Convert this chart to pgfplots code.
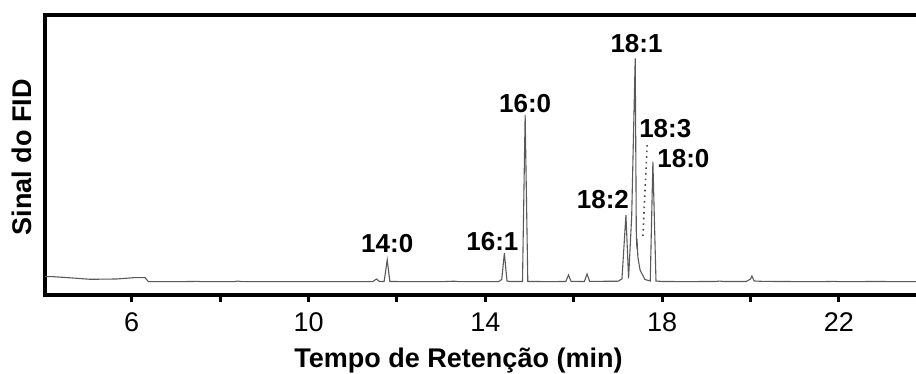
\documentclass[border=0pt]{standalone}
\usepackage{pgfplots}
\pgfplotsset{compat=1.18}
\usepackage{fontspec}
\setmainfont{Liberation Sans}
\begin{document}
\begin{tikzpicture}
\begin{axis}[
  scale only axis,
  width=437pt, height=140pt,
  xmin=4.038, xmax=23.81,
  ymin=0, ymax=280,
  axis line style={line width=1.6pt, black},
  xtick={6,10,14,18,22},
  minor xtick={8,12,16,20},
  xtick pos=bottom,
  ytick=\empty,
  tick align=outside,
  major tick length=3.5pt,
  minor tick length=3.5pt,
  every tick/.style={line width=1.5pt, black},
  /pgf/number format/assume math mode=true,
  xticklabel style={font=\fontsize{13.5}{15}\selectfont, yshift=-2pt},
  clip=false,
]
\addplot[color=black!65, line width=0.55pt] coordinates {
(4.04,18.3) (4.23,18.3) (4.6,17.2) (5.06,15.7) (5.66,16.0) (6.04,17.3) (6.30,17.3) (6.38,13.3)
(7.0,13.3) (7.5,13.6) (7.6,13.3) (8.3,13.3) (8.4,13.9) (8.5,13.3) (9.0,13.3) (10.5,13.3)
(11.0,13.4) (11.45,13.4) (11.54,16.0) (11.6,13.6) (11.71,13.5) (11.78,35) (11.84,13.5)
(12.5,13.3) (13.0,13.3) (13.3,13.8) (13.4,13.3) (14.3,13.4) (14.37,15.5) (14.43,41.7)
(14.49,14.0) (14.55,13.5) (14.84,13.5) (14.90,180) (14.96,13.5) (15.5,13.4)
(15.82,13.5) (15.88,20) (15.94,13.6) (16.24,13.5) (16.30,21) (16.36,13.6)
(17.0,13.8) (17.09,16) (17.18,80) (17.24,16.7) (17.31,78.3) (17.39,236.7)
(17.415,60) (17.425,50) (17.435,52) (17.45,38) (17.50,25) (17.61,15.5)
(17.73,14) (17.79,133.3) (17.86,14) (18.0,13.5) (18.5,13.4) (19.2,13.5) (19.3,13.9)
(19.4,13.5) (19.9,13.5) (20.0,16) (20.03,19) (20.08,14) (20.3,13.6) (21.5,13.3)
(21.9,13.6) (22.0,13.3) (22.8,13.5) (23.81,13.3)
};
\addplot[color=black!70, line width=0.8pt, dotted] coordinates {(17.66,150) (17.56,55)};
\begin{scope}[every node/.style={font=\bfseries\fontsize{13}{15}\selectfont}]
\node at (axis cs:11.78,51) {14:0};
\node at (axis cs:14.16,53.3) {16:1};
\node at (axis cs:14.90,191) {16:0};
\node at (axis cs:16.66,95) {18:2};
\node at (axis cs:17.42,251) {18:1};
\node at (axis cs:18.07,166) {18:3};
\node at (axis cs:18.48,136) {18:0};
\end{scope}
\end{axis}
\node[rotate=90, font=\bfseries\fontsize{13.5}{16}\selectfont] at (-11.5pt,68.75pt) {Sinal do FID};
\node[anchor=base, font=\bfseries\fontsize{13.5}{16}\selectfont] at (206.75pt,-36.5pt) {Tempo de Retenção (min)};
\pgfresetboundingbox
\useasboundingbox (-22.5pt,-39.5pt) rectangle (435.5pt,147.5pt);
\end{tikzpicture}
\end{document}
